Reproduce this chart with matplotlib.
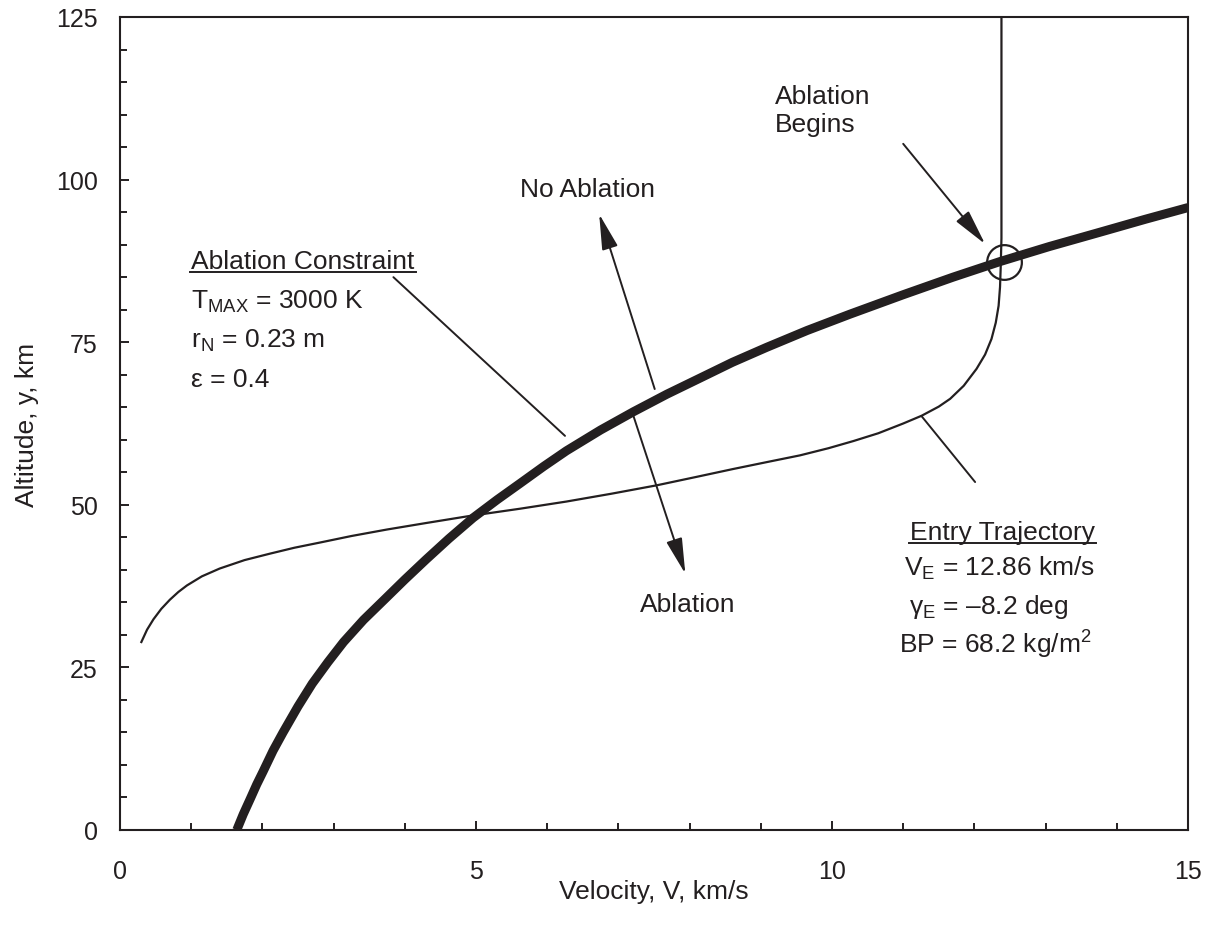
import matplotlib
matplotlib.use("Agg")
import matplotlib.pyplot as plt
from matplotlib.lines import Line2D
from matplotlib.ticker import MultipleLocator

plt.rcParams['font.family'] = ['Liberation Sans', 'DejaVu Sans']
plt.rcParams['mathtext.fontset'] = 'custom'
plt.rcParams['mathtext.rm'] = 'Liberation Sans'
plt.rcParams['mathtext.it'] = 'Liberation Sans'
plt.rcParams['mathtext.bf'] = 'Liberation Sans'

INK = '#231f20'

# ---- data ----
# Ablation constraint (T_max = 3000 K): velocity km/s, altitude km
abl_V = [1.64, 1.73, 1.83, 1.92, 2.01, 2.15, 2.29, 2.50, 2.70, 2.92, 3.14,
         3.42, 3.72, 4.00, 4.30, 4.62, 4.96, 5.30, 5.62, 5.95, 6.27, 6.75,
         7.21, 7.68, 8.15, 8.60, 9.08, 9.65, 10.25, 11.00, 11.70, 12.36,
         13.05, 13.76, 14.40, 15.00]
abl_h = [0.0, 2.4, 4.8, 7.0, 9.0, 12.2, 15.0, 19.0, 22.5, 25.8, 28.9,
         32.3, 35.5, 38.5, 41.6, 44.8, 48.0, 50.8, 53.3, 55.9, 58.3, 61.5,
         64.3, 67.0, 69.5, 71.9, 74.2, 76.8, 79.3, 82.3, 85.0, 87.4,
         89.7, 91.9, 93.9, 95.7]

# Entry trajectory
traj_V = [0.30, 0.38, 0.47, 0.58, 0.70, 0.82, 0.94, 1.15, 1.40, 1.75, 2.11,
          2.45, 2.81, 3.25, 3.75, 4.30, 4.92, 5.62, 6.27, 6.90, 7.54, 8.10,
          8.61, 9.10, 9.55, 9.95, 10.30, 10.65, 11.00, 11.26, 11.50, 11.66,
          11.85, 12.03, 12.15, 12.24, 12.30, 12.34, 12.36, 12.37, 12.38,
          12.38, 12.38]
traj_h = [28.9, 30.8, 32.4, 34.0, 35.4, 36.6, 37.6, 39.0, 40.2, 41.5, 42.5,
          43.4, 44.2, 45.2, 46.2, 47.2, 48.3, 49.4, 50.5, 51.7, 53.0, 54.3,
          55.5, 56.6, 57.6, 58.7, 59.8, 61.0, 62.5, 63.7, 65.1, 66.3,
          68.3, 70.9, 73.1, 75.5, 78.0, 80.6, 83.5, 86.7, 91.0,
          97.0, 125.0]

# Point where ablation begins
begin_V = [12.41]
begin_h = [87.4]

x_ticks = [0, 5, 10, 15]
y_ticks = [0, 25, 50, 75, 100, 125]

fig = plt.figure(figsize=(12.16, 9.28), dpi=100)
ax = fig.add_axes([120/1216, 97/928, 1068/1216, 813/928])

ax.plot(abl_V, abl_h, color=INK, lw=6.5, solid_capstyle='butt',
        solid_joinstyle='round', zorder=3)
ax.plot(traj_V, traj_h, color=INK, lw=1.6, solid_joinstyle='round', zorder=4)
ax.plot(begin_V, begin_h, 'o', ms=25, mfc='none', mec=INK, mew=1.6, zorder=5)

ax.set_xlim(0, 15)
ax.set_ylim(0, 125)
ax.set_xticks(x_ticks)
ax.set_yticks(y_ticks)
ax.xaxis.set_minor_locator(MultipleLocator(1))
ax.yaxis.set_minor_locator(MultipleLocator(5))
ax.tick_params(which='both', direction='in', color=INK, top=False, right=False)
ax.tick_params(which='major', length=6.8, width=1.4, labelsize=18, labelcolor=INK)
ax.tick_params(axis='x', which='major', pad=21)
ax.tick_params(axis='y', which='major', pad=16)
ax.tick_params(which='minor', length=5, width=1.4)
for s in ax.spines.values():
    s.set_linewidth(1.5)
    s.set_color(INK)

ax.set_xlabel('Velocity, V, km/s', fontsize=19, color=INK, labelpad=-3)
ax.set_ylabel('Altitude, y, km', fontsize=19, color=INK, labelpad=12)

fs = 19
# Ablation constraint block
t_abl = ax.text(1.0, 87.5, 'Ablation Constraint', fontsize=fs, color=INK, ha='left', va='center')
ax.text(1.0, 81.3, r'T$_{\mathrm{MAX}}$ = 3000 K', fontsize=fs, color=INK, ha='left', va='center')
ax.text(1.0, 75.3, r'r$_{\mathrm{N}}$ = 0.23 m', fontsize=fs, color=INK, ha='left', va='center')
ax.text(1.0, 69.3, 'ε = 0.4', fontsize=fs, color=INK, ha='left', va='center')
ax.annotate('', xy=(6.25, 60.6), xytext=(3.84, 85.0),
            arrowprops=dict(arrowstyle='-', lw=1.4, color=INK, shrinkA=0, shrinkB=0))

# Entry trajectory block
t_ent = ax.text(12.40, 45.8, 'Entry Trajectory', fontsize=fs, color=INK, ha='center', va='center')
ax.text(12.35, 40.4, r'V$_{\mathrm{E}}$ = 12.86 km/s', fontsize=fs, color=INK, ha='center', va='center')
ax.text(12.20, 34.4, r'γ$_{\mathrm{E}}$ = –8.2 deg', fontsize=fs, color=INK, ha='center', va='center')
ax.text(12.30, 28.6, r'BP = 68.2 kg/m$^{2}$', fontsize=fs, color=INK, ha='center', va='center')
ax.annotate('', xy=(11.26, 63.6), xytext=(12.01, 53.5),
            arrowprops=dict(arrowstyle='-', lw=1.4, color=INK, shrinkA=0, shrinkB=0))

arrow_kw = dict(arrowstyle='-|>,head_length=2.2,head_width=0.5', lw=1.4, color=INK,
                shrinkA=0, shrinkB=0, mutation_scale=10)
# No Ablation / Ablation arrows
ax.text(6.57, 98.6, 'No Ablation', fontsize=fs, color=INK, ha='center', va='center')
ax.annotate('', xy=(6.73, 94.7), xytext=(7.51, 67.8), arrowprops=arrow_kw)
ax.text(7.98, 34.7, 'Ablation', fontsize=fs, color=INK, ha='center', va='center')
ax.annotate('', xy=(7.94, 39.4), xytext=(7.21, 63.7), arrowprops=arrow_kw)

# Ablation begins
ax.text(9.2, 110.7, 'Ablation\nBegins', fontsize=fs, color=INK, ha='left', va='center',
        linespacing=1.2)
ax.annotate('', xy=(12.15, 90.1), xytext=(11.0, 105.5), arrowprops=arrow_kw)

# underlines beneath block titles
fig.canvas.draw()
r = fig.canvas.get_renderer()
inv = fig.transFigure.inverted()
for t in (t_abl, t_ent):
    bb = t.get_window_extent(r)
    (x0, y0) = inv.transform((bb.x0 - 1, bb.y0 + 1))
    (x1, _) = inv.transform((bb.x1 + 1, bb.y0 + 1))
    fig.add_artist(Line2D([x0, x1], [y0, y0], transform=fig.transFigure,
                          color=INK, lw=1.4))

fig.savefig('out.png', dpi=100)
